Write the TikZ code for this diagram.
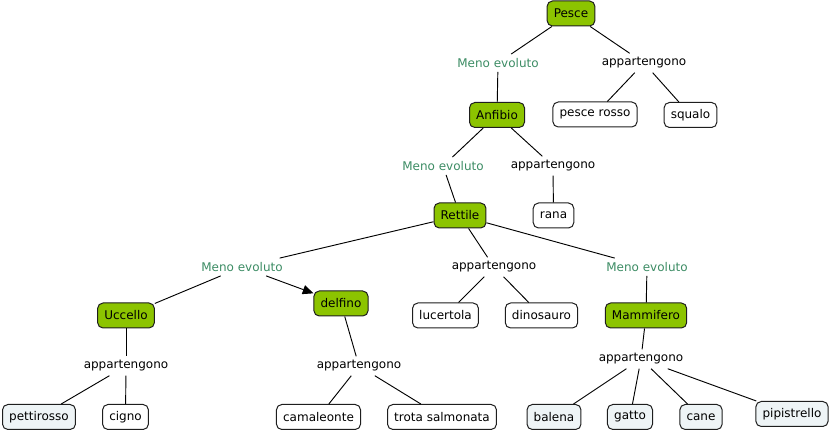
\documentclass[tikz,border=0pt]{standalone}
\usepackage{fontspec}
\setmainfont{DejaVu Sans}
\usetikzlibrary{arrows.meta}
\definecolor{conceptgreen}{RGB}{140,196,0}
\definecolor{leaffill}{RGB}{238,244,246}
\definecolor{linkgreen}{RGB}{60,140,100}
\definecolor{bordergray}{RGB}{30,30,30}
\begin{document}
\begin{tikzpicture}[x=0.75pt,y=-0.75pt,
  every node/.style={font=\fontsize{9}{11}\selectfont},
  concept/.style={draw=bordergray,line width=0.75pt,rounded corners=4pt,fill=conceptgreen,minimum height=18.75pt,inner xsep=5pt,inner ysep=2pt},
  leaf/.style={draw=bordergray,line width=0.75pt,rounded corners=4pt,fill=white,minimum height=18.75pt,inner xsep=5pt,inner ysep=2pt},
  leafblue/.style={leaf,fill=leaffill},
  linkg/.style={text=linkgreen,inner sep=3pt},
  linkb/.style={text=black,inner sep=3pt},
  conn/.style={draw=black,line width=0.7pt},
  arr/.style={conn,-{Triangle[length=8pt,width=7pt]}}
]
\useasboundingbox (0,0) rectangle (832,434);
% concepts
\node[concept] (pesce) at (571,13.5) {Pesce};
\node[concept] (anfibio) at (497,115) {Anfibio};
\node[concept] (rettile) at (460,215.5) {Rettile};
\node[concept] (uccello) at (126,315.5) {Uccello};
\node[concept] (delfino) at (341,303.5) {delfino};
\node[concept] (mammifero) at (646,315.5) {Mammifero};
% leaves
\node[leaf] (pescerosso) at (595,114.5) {pesce rosso};
\node[leaf] (squalo) at (690.5,115) {squalo};
\node[leaf] (rana) at (553.5,215.5) {rana};
\node[leaf] (lucertola) at (445.5,315.5) {lucertola};
\node[leaf] (dinosauro) at (541.5,315.5) {dinosauro};
\node[leafblue] (pettirosso) at (39,417) {pettirosso};
\node[leaf] (cigno) at (125.5,417) {cigno};
\node[leaf] (camaleonte) at (318.5,417) {camaleonte};
\node[leaf] (trota) at (442,417) {trota salmonata};
\node[leafblue] (balena) at (554,417) {balena};
\node[leafblue] (gatto) at (630,417) {gatto};
\node[leafblue] (cane) at (701,417) {cane};
\node[leafblue] (pipistrello) at (792,414) {pipistrello};
% links
\node[linkg] (me1) at (498,63) {Meno evoluto};
\node[linkb] (ap1) at (644,63) {appartengono};
\node[linkg] (me2) at (443,166) {Meno evoluto};
\node[linkb] (ap2) at (553,166) {appartengono};
\node[linkg] (me3) at (242,267) {Meno evoluto};
\node[linkb] (ap3) at (494,267) {appartengono};
\node[linkg] (me4) at (647,267) {Meno evoluto};
\node[linkb] (ap4) at (126,366) {appartengono};
\node[linkb] (ap5) at (359,366) {appartengono};
\node[linkb] (ap6) at (641,359) {appartengono};
% connectors
\draw[conn] (pesce) -- (me1);
\draw[conn] (me1) -- (anfibio);
\draw[conn] (pesce) -- (ap1);
\draw[conn] (ap1) -- (pescerosso);
\draw[conn] (ap1) -- (squalo);
\draw[conn] (anfibio) -- (me2);
\draw[conn] (me2) -- (rettile);
\draw[conn] (anfibio) -- (ap2);
\draw[conn] (ap2) -- (rana);
\draw[conn] (rettile) -- (me3);
\draw[conn] (me3) -- (uccello);
\draw[arr] (me3) -- (delfino);
\draw[conn] (rettile) -- (ap3);
\draw[conn] (ap3) -- (lucertola);
\draw[conn] (ap3) -- (dinosauro);
\draw[conn] (rettile) -- (me4);
\draw[conn] (me4) -- (mammifero);
\draw[conn] (uccello) -- (ap4);
\draw[conn] (ap4) -- (pettirosso);
\draw[conn] (ap4) -- (cigno);
\draw[conn] (delfino) -- (ap5);
\draw[conn] (ap5) -- (camaleonte);
\draw[conn] (ap5) -- (trota);
\draw[conn] (mammifero) -- (ap6);
\draw[conn] (ap6) -- (balena);
\draw[conn] (ap6) -- (gatto);
\draw[conn] (ap6) -- (cane);
\draw[conn] (ap6) -- (pipistrello);
\end{tikzpicture}
\end{document}
